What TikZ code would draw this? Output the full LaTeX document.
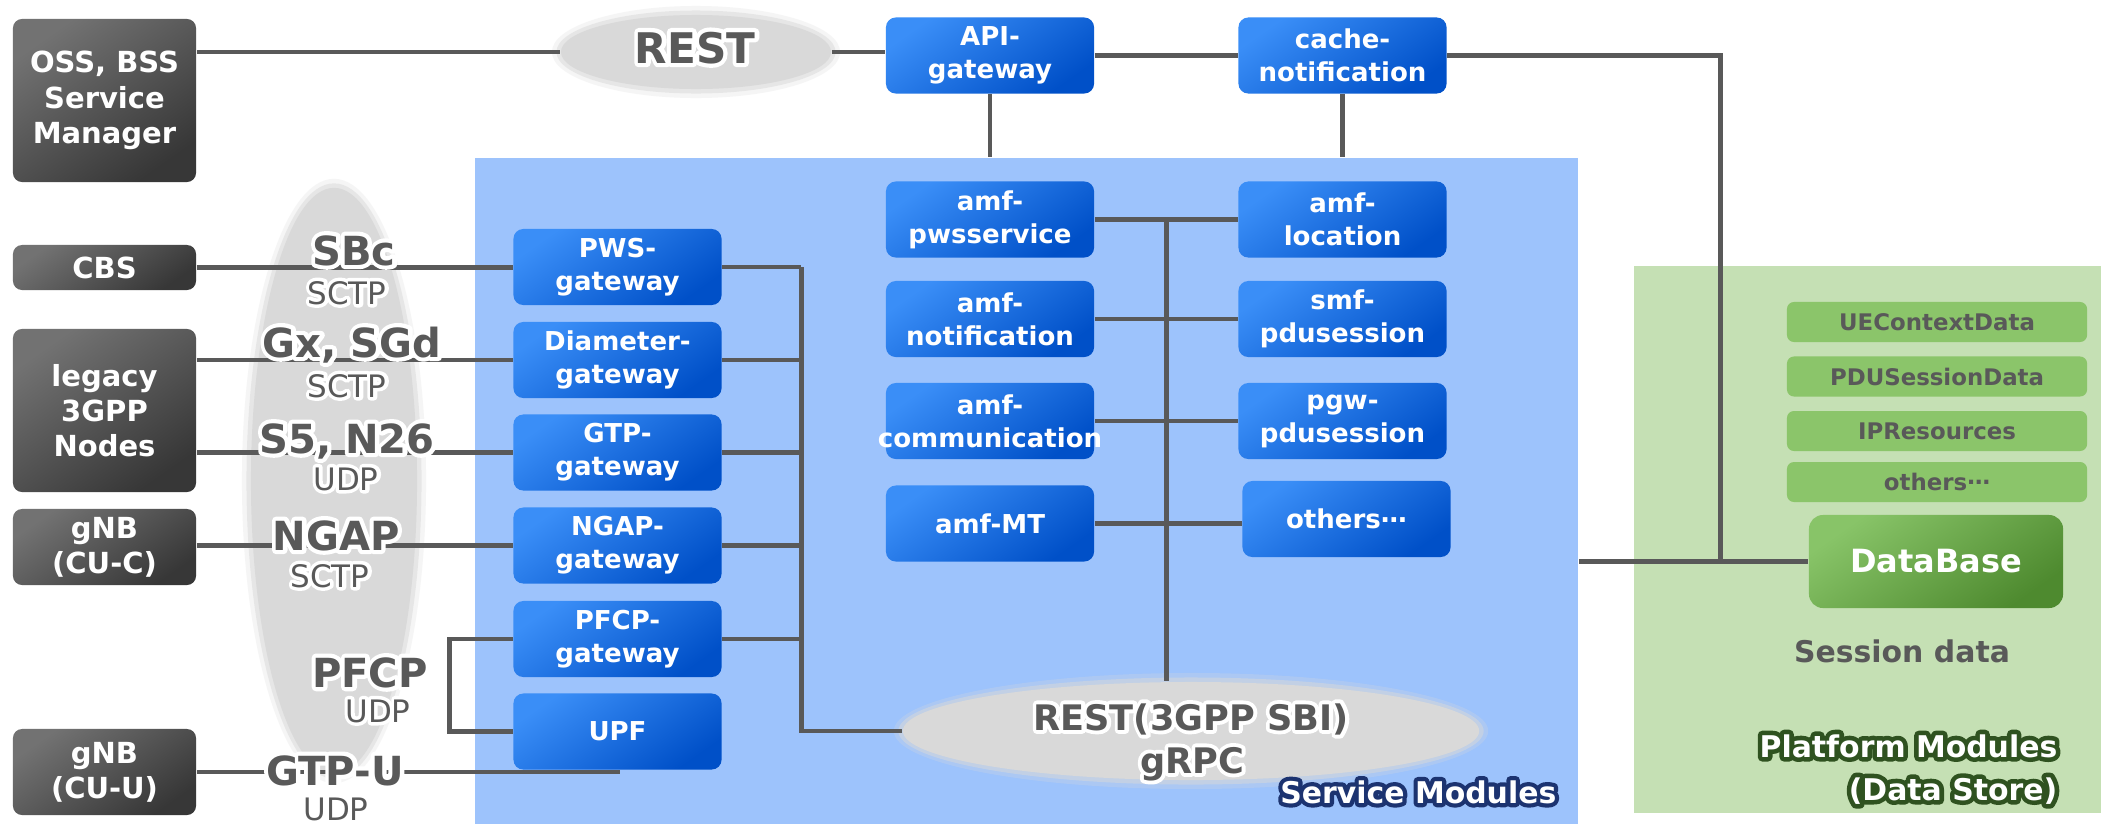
\documentclass[tikz,border=0pt]{standalone}
\usepackage{fontspec}
\setmainfont{DejaVu Sans}
\usetikzlibrary{shapes.geometric,calc}

\definecolor{wireC}{HTML}{595959}
\definecolor{blueA}{HTML}{3A8EF7}
\definecolor{blueB}{HTML}{0050C8}
\definecolor{darkA}{HTML}{727272}
\definecolor{darkB}{HTML}{373737}
\definecolor{panelBlue}{HTML}{9DC3FC}
\definecolor{panelGreen}{HTML}{C5E0B4}
\definecolor{barGreen}{HTML}{8BC56A}
\definecolor{dbA}{HTML}{88C468}
\definecolor{dbB}{HTML}{4E8A2F}
\definecolor{cloud}{HTML}{D9D9D9}
\definecolor{labelC}{HTML}{595959}
\definecolor{navy}{HTML}{1C3370}
\definecolor{forest}{HTML}{2F5220}

\pgfdeclarelayer{panels}
\pgfdeclarelayer{wires}
\pgfsetlayers{panels,wires,main}

% text with an outline halo: name, position, options, halo colour, halo stroke width (bp), text
% the lower copy is stroked only (render mode 1), the upper copy is filled normally
\newcommand\glow[6]{%
  \node[#3,text=#4] at (#2) {\special{pdf:literal direct 1 Tr 1 j #5 w}#6\special{pdf:literal direct 0 Tr}};%
  \node[#3] (#1) at (#2) {#6};}

% soft rim round a cloud ellipse: centre node, x radius, y radius (cm)
\newcommand\softrim[3]{%
  \fill[cloud, opacity=0.25] (#1.center) ellipse [x radius=#2cm+0.09cm, y radius=#3cm+0.09cm];
  \fill[cloud, opacity=0.5] (#1.center) ellipse [x radius=#2cm+0.045cm, y radius=#3cm+0.045cm];}

\tikzset{
  wire/.style={draw=wireC, line width=1.3pt},
  cloudnode/.style={ellipse, fill=cloud, inner sep=0pt},
  bluebox/.style={rounded corners=2.8pt, minimum width=2.08cm, minimum height=0.76cm,
    inner sep=0pt, text=white, align=center,
    font=\bfseries\fontsize{7.4}{9.4}\selectfont,
    top color=blueA, bottom color=blueB, shading angle=35},
  darkbox/.style={rounded corners=2.6pt, minimum width=1.83cm, inner sep=0pt,
    text=white, align=center, font=\bfseries\fontsize{8.25}{10}\selectfont,
    top color=darkA, bottom color=darkB, shading angle=35},
  databar/.style={rounded corners=2pt, fill=barGreen, minimum width=3.00cm,
    minimum height=0.40cm, inner sep=0pt, text=labelC,
    font=\bfseries\fontsize{6.5}{8}\selectfont},
  proto/.style={inner sep=0pt, text=labelC, anchor=base,
    font=\bfseries\fontsize{11.4}{13}\selectfont},
  transport/.style={inner sep=0pt, text=labelC, anchor=base,
    font=\fontsize{8.8}{10}\selectfont},
  cloudtext/.style={inner sep=0pt, text=labelC, anchor=base},
  tag/.style={inner sep=0pt, text=white, anchor=base east,
    font=\bfseries\fontsize{8.5}{10}\selectfont},
}

\begin{document}
\begin{tikzpicture}[x=0.01cm, y=-0.01cm]
\useasboundingbox (0,0) rectangle (2101,827);

% ---------- backgrounds: module panels and protocol clouds ----------
\begin{pgfonlayer}{panels}
  \fill[white] (0,0) rectangle (2101,827);
  \node[fill=panelBlue, anchor=north west, inner sep=0pt,
        minimum width=11.03cm, minimum height=6.66cm] (svc) at (474,157) {};
  \node[fill=panelGreen, anchor=north west, inner sep=0pt,
        minimum width=4.68cm, minimum height=5.47cm] (plat) at (1633,265) {};
  \coordinate (protoC) at (334,481);
  \coordinate (restC) at (696,52);
  \coordinate (sbiC) at (1191,731);
  \softrim{protoC}{0.83}{2.93}
  \softrim{restC}{1.35}{0.37}
  \softrim{sbiC}{2.88}{0.49}
  \node[cloudnode, minimum width=1.66cm, minimum height=5.86cm] (protocols) at (protoC) {};
  \node[cloudnode, minimum width=2.70cm, minimum height=0.74cm] (rest) at (restC) {};
  \node[cloudnode, minimum width=5.76cm, minimum height=0.98cm] (sbi) at (sbiC) {};
\end{pgfonlayer}

% ---------- external nodes ----------
\node[darkbox, minimum height=1.63cm] (oss) at (104.5,100.5) {OSS, BSS\\Service\\Manager};
\node[darkbox, minimum height=0.45cm] (cbs) at (104.5,267.5) {CBS};
\node[darkbox, minimum height=1.63cm] (legacy) at (104.5,410.5) {legacy\\3GPP\\Nodes};
\node[darkbox, minimum height=0.76cm] (gnbc) at (104.5,547) {gNB\\(CU-C)};
\node[darkbox, minimum height=0.86cm] (gnbu) at (104.5,772) {gNB\\(CU-U)};

% ---------- gateways ----------
\node[bluebox] (pws)  at (617.5,267)   {PWS-\\gateway};
\node[bluebox] (diam) at (617.5,360)   {Diameter-\\gateway};
\node[bluebox] (gtp)  at (617.5,452.5) {GTP-\\gateway};
\node[bluebox] (ngap) at (617.5,545.5) {NGAP-\\gateway};
\node[bluebox] (pfcp) at (617.5,639)   {PFCP-\\gateway};
\node[bluebox] (upf)  at (617.5,731.5) {UPF};

% ---------- top row ----------
\node[bluebox] (api)   at (990,55.5)    {API-\\gateway};
\node[bluebox] (cache) at (1342.5,55.5) {cache-\\notification};

% ---------- service functions ----------
\node[bluebox] (amfpws) at (990,219.5) {amf-\\pwsservice};
\node[bluebox] (amfnot) at (990,319)   {amf-\\notification};
\node[bluebox] (amfcom) at (990,421)   {amf-\\\makebox[0pt]{communication}};
\node[bluebox] (amfmt)  at (990,523.5) {amf-MT};
\node[bluebox] (amfloc) at (1342.5,219.5) {amf-\\location};
\node[bluebox] (smf)    at (1342.5,319)   {smf-\\pdusession};
\node[bluebox] (pgw)    at (1342.5,421)   {pgw-\\pdusession};
\node[bluebox] (others) at (1346.5,519)   {others\raisebox{0.25em}{…}};

% ---------- data store ----------
\node[databar] (ue)   at (1937,322)   {UEContextData};
\node[databar] (pdu)  at (1937,376.5) {PDUSessionData};
\node[databar] (ipr)  at (1937,431)   {IPResources};
\node[databar] (oth)  at (1937,482)   {others\raisebox{0.25em}{…}};
\node[rounded corners=4pt, minimum width=2.54cm, minimum height=0.93cm, inner sep=0pt,
      top color=dbA, bottom color=dbB, shading angle=35, text=white,
      font=\bfseries\fontsize{9.1}{11}\selectfont] (db) at (1936,561.5) {DataBase};
\node[cloudtext, font=\bfseries\fontsize{8.5}{10}\selectfont] (sess) at (1902,662) {Session data};

% ---------- connectors ----------
\coordinate (junc) at ($(db.west)+(-88,0)$);
\coordinate (gwbus) at ($(pws.east)+(79,0)$);
\coordinate (ambus) at ($(amfpws.east)!0.5!(amfloc.west)$);
\begin{pgfonlayer}{wires}
  \draw[wire] (oss.east |- rest.west) -- (rest.west);
  \draw[wire] (rest.east) -- (api.west |- rest.east);
  \draw[wire] (api) -- (cache);
  \draw[wire] (cache.east) -| (junc);
  \draw[wire] (svc.east |- db.west) -- (db.west);
  \draw[wire] (api.south) -- (api.south |- svc.north);
  \draw[wire] (cache.south) -- (cache.south |- svc.north);

  \draw[wire] (cbs.east) -- (cbs.east -| pws.west);
  \draw[wire] (legacy.east |- diam.west) -- (diam.west);
  \draw[wire] (legacy.east |- gtp.west) -- (gtp.west);
  \draw[wire] (gnbc.east |- ngap.west) -- (ngap.west);
  \draw[wire] (pfcp.west) -- ++(-63,0) |- (upf.west);
  \draw[wire] (gnbu.east) -| (upf.south);

  \foreach \g in {pws,diam,gtp,ngap,pfcp}
    \draw[wire] (\g.east) -- (\g.east -| gwbus);
  \draw[wire] (gwbus |- pws.east) -- (gwbus |- sbi.west) -- (sbi.west);

  \draw[wire] (amfpws) -- (amfloc);
  \draw[wire] (amfnot) -- (smf);
  \draw[wire] (amfcom) -- (pgw);
  \draw[wire] (amfmt.east) -- (amfmt.east -| others.west);
  \draw[wire] (ambus) -- (ambus |- sbi.north);
\end{pgfonlayer}

% ---------- protocol labels ----------
\glow{tSBc}{354,265}{proto}{white}{2.4}{SBc}
\glow{sSBc}{347,304}{transport}{white}{2}{SCTP}
\glow{tGx}{352,357}{proto}{white}{2.4}{Gx, SGd}
\glow{sGx}{347,397}{transport}{white}{2}{SCTP}
\glow{tS5}{347,453}{proto}{white}{2.4}{S5, N26}
\glow{sS5}{346,490}{transport}{white}{2}{UDP}
\glow{tNGAP}{336,550}{proto}{white}{2.4}{NGAP}
\glow{sNGAP}{330,587}{transport}{white}{2}{SCTP}
\glow{tPFCP}{370,687}{proto}{white}{2.4}{PFCP}
\glow{sPFCP}{378,722}{transport}{white}{2}{UDP}
\glow{tGTPU}{335,785}{proto}{white}{2.4}{GTP-U}
\glow{sGTPU}{336,820}{transport}{white}{2}{UDP}

\glow{tREST}{695,63}{cloudtext, font=\bfseries\fontsize{12}{14}\selectfont}{white}{2.4}{REST}
\glow{tSBI}{1191,730}{cloudtext, font=\bfseries\fontsize{10}{12}\selectfont}{white}{2.2}{REST(3GPP SBI)}
\glow{tRPC}{1192,773}{cloudtext, font=\bfseries\fontsize{10}{12}\selectfont}{white}{2.2}{gRPC}

% ---------- panel titles ----------
\glow{tSvc}{1557,803}{tag}{navy}{2.4}{Service Modules}
\glow{tPlat}{2058,757}{tag}{forest}{2.6}{Platform Modules}
\glow{tStore}{2058,800}{tag}{forest}{2.6}{(Data Store)}
\end{tikzpicture}
\end{document}
